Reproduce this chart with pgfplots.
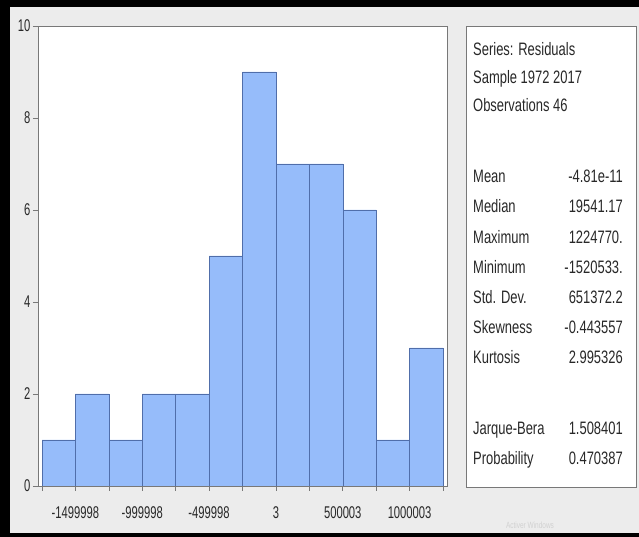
\documentclass[border=0pt]{standalone}
\usepackage{pgfplots}
\pgfplotsset{compat=1.18}
\usepackage{fontspec}
\setmainfont{Liberation Sans}[FakeStretch=0.72]
\newfontfamily\tickfont{Liberation Sans}[FakeStretch=0.66]
\definecolor{bg}{RGB}{236,236,236}
\definecolor{barfill}{RGB}{150,188,250}
\definecolor{baredge}{RGB}{80,110,170}
\definecolor{framec}{RGB}{120,120,120}
\definecolor{txt}{RGB}{40,40,40}

\begin{document}
\begin{tikzpicture}[x=1bp,y=1bp]
\fill[black] (0,0) rectangle (639,537);
\fill[bg] (10,4) rectangle (639,530);

\begin{axis}[
    at={(38bp,51bp)}, anchor=south west,
    width=409bp, height=460bp, scale only axis,
    xmin=-1779922, xmax=1279926,
    ymin=0, ymax=10,
    axis background/.style={fill=white},
    axis line style={framec, line width=0.8bp},
    tick align=outside,
    major tick length=5bp,
    tick style={framec, line width=0.6bp},
    xtick pos=left, ytick pos=left,
    scaled x ticks=false,
    xtick={-1749998,-1499998,-1249998,-999998,-749998,-499998,-249998,3,250003,500003,750003,1000003,1250003},
    xticklabels={,-1499998,,-999998,,-499998,,3,,500003,,1000003,},
    ytick={0,2,4,6,8,10},
    ticklabel style={font=\tickfont\fontsize{17bp}{19bp}\selectfont, text=txt},
    xticklabel style={yshift=-12bp},
    yticklabel style={xshift=1bp},
    /pgf/number format/assume math mode=true,
]
\addplot[ybar interval, fill=barfill, draw=baredge, line width=0.5bp] coordinates {
    (-1749998,1)
    (-1499998,2)
    (-1249998,1)
    (-999998,2)
    (-749998,2)
    (-499998,5)
    (-249998,9)
    (3,7)
    (250003,7)
    (500003,6)
    (750003,1)
    (1000003,3)
    (1250003,3)};
\end{axis}

% statistics box
\draw[framec, fill=white, line width=0.8bp] (466,50) rectangle (636,511);
\begin{scope}[every node/.style={inner sep=0pt, text=txt, font=\fontsize{18bp}{20bp}\selectfont}]
\node[anchor=mid west] at (473,484) {Series: Residuals};
\node[anchor=mid west] at (473,456) {Sample 1972 2017};
\node[anchor=mid west] at (473,428) {Observations 46};

\node[anchor=mid west] at (473,357) {Mean};
\node[anchor=mid east] at (623,357) {-4.81e-11};
\node[anchor=mid west] at (473,327) {Median};
\node[anchor=mid east] at (623,327) {19541.17};
\node[anchor=mid west] at (473,296) {Maximum};
\node[anchor=mid east] at (623,296) {1224770.};
\node[anchor=mid west] at (473,266) {Minimum};
\node[anchor=mid east] at (623,266) {-1520533.};
\node[anchor=mid west] at (473,236) {Std. Dev.};
\node[anchor=mid east] at (623,236) {651372.2};
\node[anchor=mid west] at (473,206) {Skewness};
\node[anchor=mid east] at (623,206) {-0.443557};
\node[anchor=mid west] at (473,176) {Kurtosis};
\node[anchor=mid east] at (623,176) {2.995326};

\node[anchor=mid west] at (473,105) {Jarque-Bera};
\node[anchor=mid east] at (623,105) {1.508401};
\node[anchor=mid west] at (473,75) {Probability};
\node[anchor=mid east] at (623,75) {0.470387};
\end{scope}

\node[text=black!18, font=\fontsize{9bp}{10bp}\selectfont, inner sep=0pt] at (530,12) {Activer Windows};

\pgfresetboundingbox
\useasboundingbox (0,0) rectangle (639,537);
\end{tikzpicture}
\end{document}
